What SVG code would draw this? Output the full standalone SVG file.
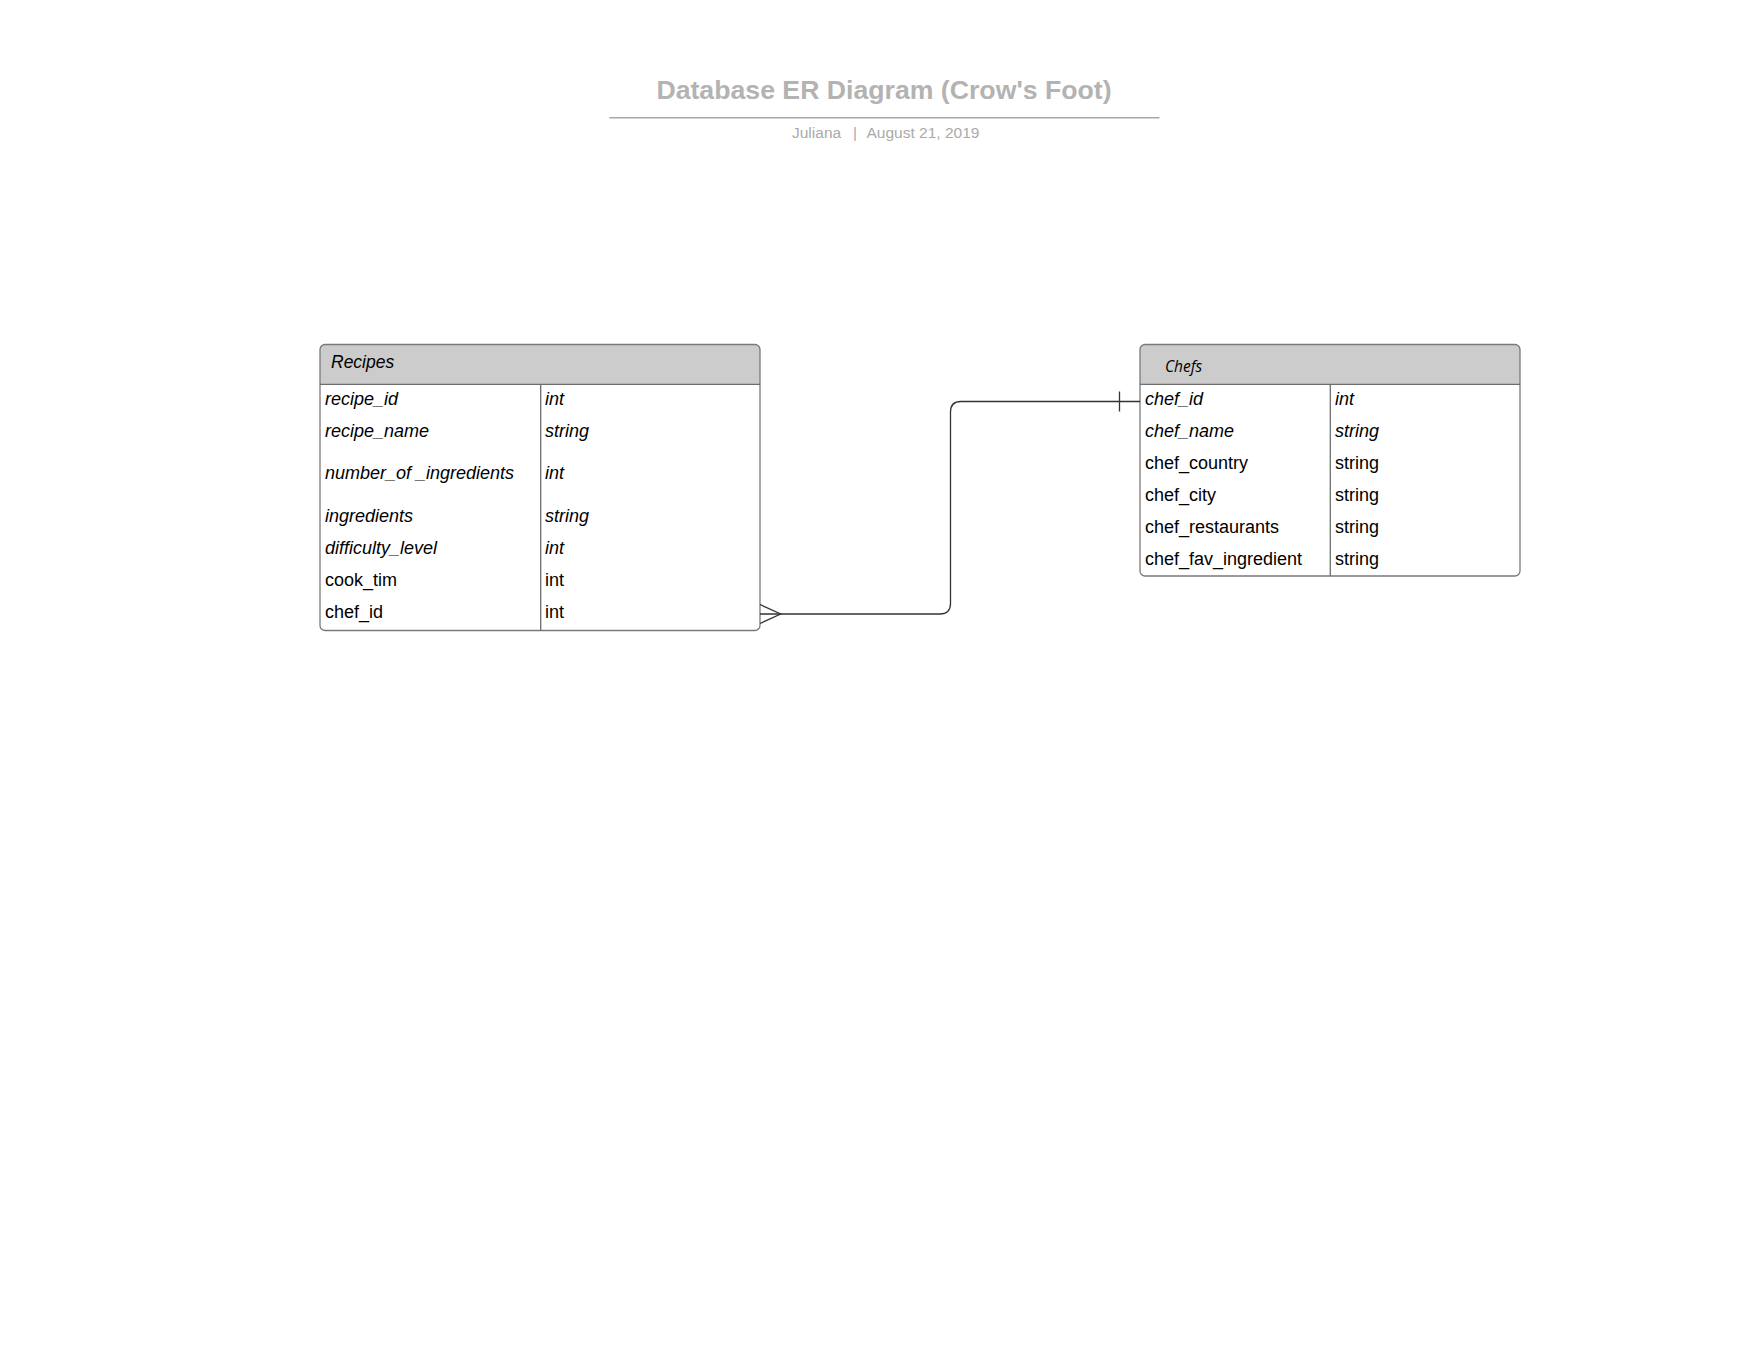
<svg xmlns="http://www.w3.org/2000/svg" width="1760" height="1360" viewBox="0 0 1760 1360">
<style>
.title{font-family:"Liberation Sans",Arial,sans-serif;font-size:26.67px;font-weight:bold;fill:#b3b3b3}
.sub{font-family:"Liberation Sans",Arial,sans-serif;font-size:15.5px;fill:#aaaaaa}
.box{fill:none;stroke:#7a7a7a;stroke-width:1.3}
.hdr{fill:#cccccc}
.sep{stroke:#6e6e6e;stroke-width:1.3;fill:none}
.t{font-family:"Liberation Sans",Arial,sans-serif;font-size:18px;fill:#000000}
.i{font-style:italic}
.h{font-family:"Liberation Sans",Arial,sans-serif;font-size:17.5px;font-style:italic;fill:#000}
.h2{font-family:"Open Sans",sans-serif;font-size:15.5px;font-style:italic;fill:#000}
.conn{fill:none;stroke:#333333;stroke-width:1.3}
</style>
<rect width="1760" height="1360" fill="#ffffff"/>
<g id="title">
<text class="title" x="884" y="98.5" text-anchor="middle">Database ER Diagram (Crow's Foot)</text>
<line x1="609.5" y1="117.7" x2="1159.5" y2="117.7" stroke="#a8a8a8" stroke-width="1.5"/>
<text class="sub" x="792" y="137.5">Juliana</text>
<text class="sub" x="853" y="137.5">|</text>
<text class="sub" x="866.5" y="137.5">August 21, 2019</text>
</g>
<g id="recipes">
<path class="hdr" d="M320 384.3 V349.5 Q320 344.5 325 344.5 H755 Q760 344.5 760 349.5 V384.3 Z"/>
<rect class="box" x="320" y="344.5" width="440" height="286" rx="5" ry="5"/>
<line class="sep" x1="320" y1="384.3" x2="760" y2="384.3"/>
<line class="sep" x1="540.7" y1="384.3" x2="540.7" y2="630.5"/>
<text class="h" x="331" y="368.3">Recipes</text>
<text class="t i" x="325" y="404.5">recipe_id</text><text class="t i" x="545" y="404.5">int</text>
<text class="t i" x="325" y="436.7">recipe_name</text><text class="t i" x="545" y="436.7">string</text>
<text class="t i" x="325" y="479.3">number_of _ingredients</text><text class="t i" x="545" y="479.3">int</text>
<text class="t i" x="325" y="521.7">ingredients</text><text class="t i" x="545" y="521.7">string</text>
<text class="t i" x="325" y="553.7">difficulty_level</text><text class="t i" x="545" y="553.7">int</text>
<text class="t" x="325" y="586">cook_tim</text><text class="t" x="545" y="586">int</text>
<text class="t" x="325" y="618">chef_id</text><text class="t" x="545" y="618">int</text>
</g>
<g id="chefs">
<path class="hdr" d="M1140 384.3 V349.5 Q1140 344.5 1145 344.5 H1515 Q1520 344.5 1520 349.5 V384.3 Z"/>
<rect class="box" x="1140" y="344.5" width="380" height="231.5" rx="5" ry="5"/>
<line class="sep" x1="1140" y1="384.3" x2="1520" y2="384.3"/>
<line class="sep" x1="1330.3" y1="384.3" x2="1330.3" y2="576"/>
<text class="h2" x="1165" y="371.7">Chefs</text>
<text class="t i" x="1145" y="404.5">chef_id</text><text class="t i" x="1335" y="404.5">int</text>
<text class="t i" x="1145" y="436.7">chef_name</text><text class="t i" x="1335" y="436.7">string</text>
<text class="t" x="1145" y="468.7">chef_country</text><text class="t" x="1335" y="468.7">string</text>
<text class="t" x="1145" y="500.7">chef_city</text><text class="t" x="1335" y="500.7">string</text>
<text class="t" x="1145" y="532.7">chef_restaurants</text><text class="t" x="1335" y="532.7">string</text>
<text class="t" x="1145" y="564.7">chef_fav_ingredient</text><text class="t" x="1335" y="564.7">string</text>
</g>
<g id="connectors">
<path class="conn" d="M760 614 H940 Q950.5 614 950.5 603.5 V412 Q950.5 401.5 961 401.5 H1140"/>
<path class="conn" d="M760 604.5 L780.7 614 L760 623.5"/>
<path class="conn" d="M1119.5 391.5 V411.5"/>
</g>
</svg>
